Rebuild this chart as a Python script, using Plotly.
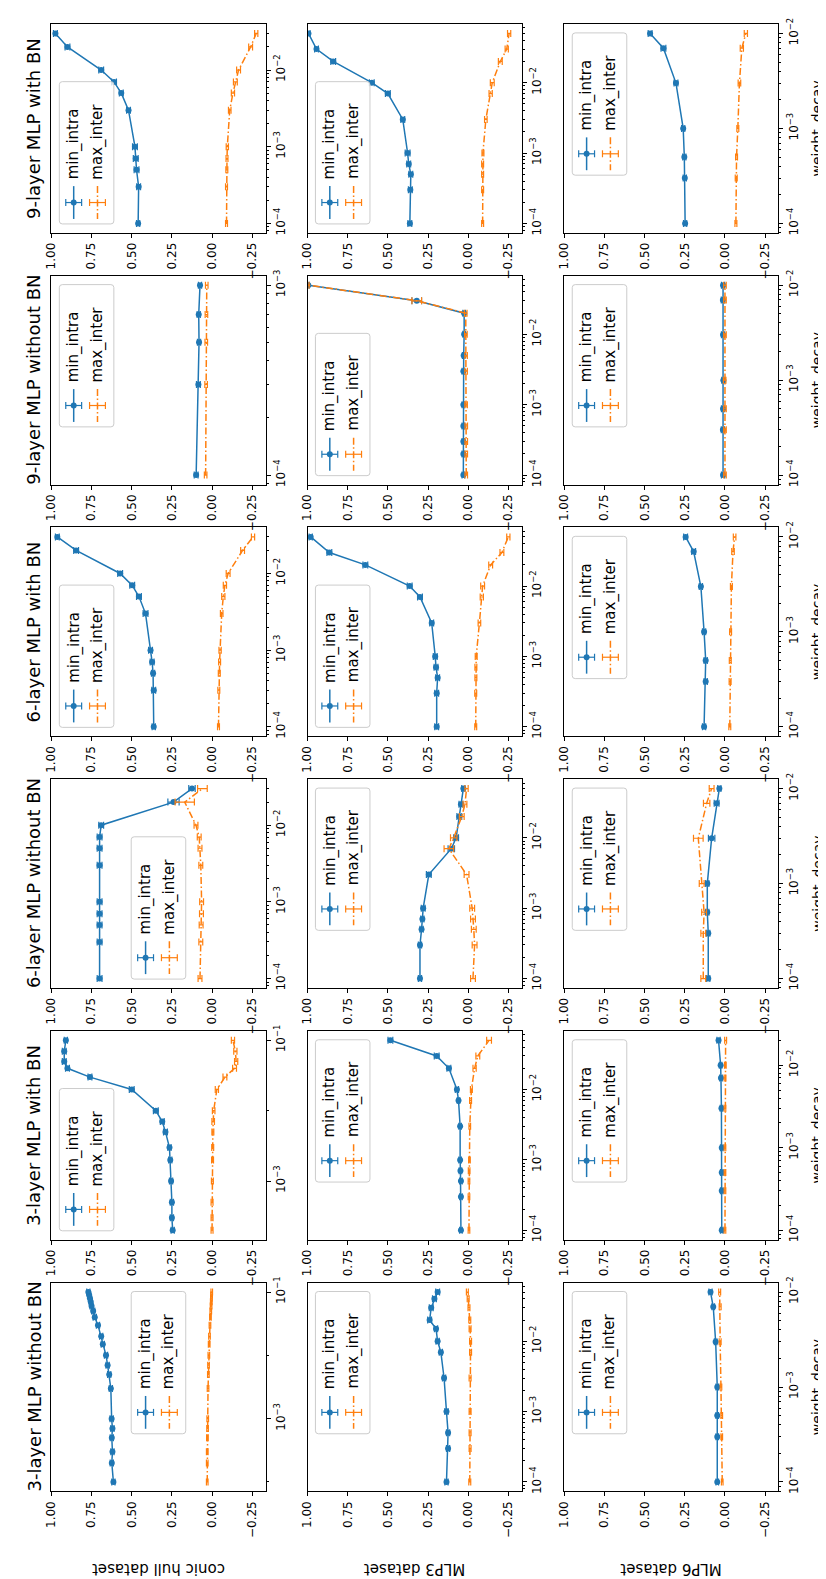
import math
import plotly.graph_objects as go

W, H = 826, 1579
FONT = "DejaVu Sans"
BLUE = "#1f77b4"
ORANGE = "#ff7f0e"

models = ["9-layer MLP with BN", "9-layer MLP without BN", "6-layer MLP with BN",
          "6-layer MLP without BN", "3-layer MLP with BN", "3-layer MLP without BN"]
datasets = ["conic hull dataset", "MLP3 dataset", "MLP6 dataset"]
series_names = ["min_intra", "max_inter"]
value_ticks = [1.0, 0.75, 0.5, 0.25, 0.0, -0.25]
value_tick_labels = ["1.00", "0.75", "0.50", "0.25", "0.00", "\u22120.25"]
x_label = "weight_decay"

# ---------------- conic hull dataset ----------------
conic_9bn_wd = [1e-4, 3e-4, 5e-4, 7e-4, 1e-3, 3e-3, 5e-3, 7e-3, 1e-2, 2e-2, 3e-2]
conic_9bn_min = [0.46, 0.457, 0.47, 0.475, 0.48, 0.52, 0.565, 0.61, 0.69, 0.90, 0.975]
conic_9bn_min_err = [0.01, 0.012, 0.015, 0.015, 0.015, 0.012, 0.012, 0.015, 0.015, 0.015, 0.012]
conic_9bn_max = [-0.09, -0.09, -0.092, -0.093, -0.095, -0.11, -0.13, -0.145, -0.165, -0.24, -0.275]
conic_9bn_max_err = [0.006, 0.006, 0.006, 0.006, 0.007, 0.008, 0.01, 0.012, 0.012, 0.012, 0.01]

conic_9nobn_wd = [1e-4, 3e-4, 5e-4, 7e-4, 1e-3]
conic_9nobn_min = [0.099, 0.085, 0.081, 0.083, 0.075]
conic_9nobn_min_err = [0.012, 0.012, 0.01, 0.01, 0.01]
conic_9nobn_max = [0.04, 0.037, 0.036, 0.035, 0.033]
conic_9nobn_max_err = [0.008, 0.008, 0.008, 0.008, 0.008]

conic_6bn_wd = [1e-4, 3e-4, 5e-4, 7e-4, 1e-3, 3e-3, 5e-3, 7e-3, 1e-2, 2e-2, 3e-2]
conic_6bn_min = [0.363, 0.363, 0.367, 0.373, 0.383, 0.414, 0.455, 0.497, 0.572, 0.846, 0.963]
conic_6bn_min_err = [0.01, 0.012, 0.01, 0.012, 0.012, 0.015, 0.015, 0.015, 0.015, 0.015, 0.012]
conic_6bn_max = [-0.04, -0.042, -0.045, -0.047, -0.05, -0.06, -0.07, -0.08, -0.10, -0.19, -0.255]
conic_6bn_max_err = [0.006, 0.006, 0.006, 0.006, 0.007, 0.008, 0.01, 0.01, 0.012, 0.012, 0.01]

conic_6nobn_wd = [1e-4, 3e-4, 5e-4, 7e-4, 1e-3, 3e-3, 5e-3, 7e-3, 1e-2, 2e-2, 3e-2]
conic_6nobn_min = [0.70, 0.70, 0.70, 0.70, 0.70, 0.70, 0.70, 0.70, 0.69, 0.24, 0.125]
conic_6nobn_min_err = [0.015, 0.015, 0.015, 0.015, 0.015, 0.015, 0.015, 0.015, 0.015, 0.035, 0.02]
conic_6nobn_max = [0.075, 0.07, 0.068, 0.066, 0.065, 0.07, 0.075, 0.08, 0.10, 0.17, 0.06]
conic_6nobn_max_err = [0.012, 0.012, 0.012, 0.012, 0.012, 0.012, 0.012, 0.012, 0.012, 0.06, 0.03]

conic_3bn_wd = [2e-4, 3e-4, 5e-4, 1e-3, 2e-3, 3e-3, 5e-3, 7e-3, 1e-2, 2e-2, 3e-2, 4e-2, 5e-2, 7e-2, 1e-1]
conic_3bn_min = [0.245, 0.25, 0.25, 0.255, 0.26, 0.265, 0.29, 0.31, 0.35, 0.50, 0.76, 0.90, 0.92, 0.92, 0.91]
conic_3bn_min_err = [0.01, 0.01, 0.01, 0.01, 0.01, 0.01, 0.012, 0.012, 0.015, 0.015, 0.012, 0.012, 0.012, 0.012, 0.01]
conic_3bn_max = [0.0, 0.0, 0.0, -0.002, -0.003, -0.004, -0.005, -0.007, -0.01, -0.03, -0.08, -0.14, -0.15, -0.145, -0.13]
conic_3bn_max_err = [0.006, 0.006, 0.006, 0.006, 0.006, 0.006, 0.006, 0.008, 0.008, 0.01, 0.012, 0.012, 0.01, 0.01, 0.01]

conic_3nobn_wd = [1e-4, 2e-4, 3e-4, 5e-4, 7e-4, 1e-3, 3e-3, 5e-3, 7e-3, 1e-2,
                  1.5e-2, 2e-2, 3e-2, 4e-2, 5e-2, 6e-2, 7e-2, 8e-2, 9e-2, 1e-1]
conic_3nobn_min = [0.614, 0.624, 0.62, 0.624, 0.62, 0.625, 0.63, 0.64, 0.65, 0.66,
                   0.68, 0.69, 0.71, 0.73, 0.74, 0.75, 0.755, 0.76, 0.765, 0.77]
conic_3nobn_min_err = [0.01, 0.01, 0.01, 0.01, 0.01, 0.01, 0.01, 0.01, 0.01, 0.01,
                       0.01, 0.01, 0.01, 0.01, 0.01, 0.01, 0.01, 0.01, 0.01, 0.01]
conic_3nobn_max = [0.03, 0.03, 0.03, 0.029, 0.028, 0.027, 0.025, 0.023, 0.022, 0.02,
                   0.018, 0.016, 0.013, 0.01, 0.008, 0.006, 0.005, 0.004, 0.003, 0.002]
conic_3nobn_max_err = [0.005, 0.005, 0.005, 0.005, 0.005, 0.005, 0.005, 0.005, 0.005, 0.005,
                       0.005, 0.005, 0.005, 0.005, 0.005, 0.005, 0.005, 0.005, 0.005, 0.005]

# ---------------- MLP3 dataset ----------------
mlp3_9bn_wd = [1e-4, 3e-4, 5e-4, 7e-4, 1e-3, 3e-3, 7e-3, 1e-2, 2e-2, 3e-2, 5e-2]
mlp3_9bn_min = [0.363, 0.36, 0.357, 0.37, 0.377, 0.407, 0.50, 0.60, 0.84, 0.944, 0.994]
mlp3_9bn_min_err = [0.012, 0.012, 0.012, 0.012, 0.015, 0.012, 0.015, 0.015, 0.015, 0.012, 0.01]
mlp3_9bn_max = [-0.09, -0.09, -0.09, -0.09, -0.092, -0.11, -0.14, -0.15, -0.20, -0.24, -0.255]
mlp3_9bn_max_err = [0.006, 0.006, 0.006, 0.006, 0.006, 0.008, 0.01, 0.012, 0.012, 0.01, 0.01]

mlp3_9nobn_wd = [1e-4, 2e-4, 3e-4, 5e-4, 1e-3, 3e-3, 5e-3, 1e-2, 2e-2, 3e-2, 5e-2]
mlp3_9nobn_min = [0.03, 0.03, 0.03, 0.03, 0.03, 0.03, 0.028, 0.025, 0.025, 0.32, 0.995]
mlp3_9nobn_min_err = [0.008, 0.008, 0.008, 0.008, 0.008, 0.008, 0.008, 0.008, 0.008, 0.03, 0.005]
mlp3_9nobn_max = [0.012, 0.012, 0.012, 0.012, 0.013, 0.013, 0.013, 0.014, 0.015, 0.32, 0.995]
mlp3_9nobn_max_err = [0.008, 0.008, 0.008, 0.008, 0.008, 0.008, 0.008, 0.008, 0.008, 0.03, 0.005]

mlp3_6bn_wd = [1e-4, 3e-4, 5e-4, 7e-4, 1e-3, 3e-3, 7e-3, 1e-2, 2e-2, 3e-2, 5e-2]
mlp3_6bn_min = [0.196, 0.196, 0.19, 0.20, 0.205, 0.227, 0.30, 0.364, 0.64, 0.864, 0.98]
mlp3_6bn_min_err = [0.012, 0.012, 0.012, 0.012, 0.012, 0.012, 0.015, 0.015, 0.015, 0.015, 0.01]
mlp3_6bn_max = [-0.047, -0.047, -0.048, -0.048, -0.05, -0.07, -0.085, -0.09, -0.14, -0.21, -0.25]
mlp3_6bn_max_err = [0.006, 0.006, 0.006, 0.006, 0.006, 0.008, 0.01, 0.012, 0.012, 0.012, 0.01]

mlp3_6nobn_wd = [1e-4, 3e-4, 5e-4, 7e-4, 1e-3, 3e-3, 7e-3, 1e-2, 2e-2, 3e-2, 5e-2]
mlp3_6nobn_min = [0.30, 0.30, 0.29, 0.285, 0.28, 0.245, 0.105, 0.075, 0.055, 0.045, 0.03]
mlp3_6nobn_min_err = [0.01, 0.01, 0.01, 0.01, 0.012, 0.015, 0.02, 0.015, 0.015, 0.012, 0.01]
mlp3_6nobn_max = [-0.03, -0.04, -0.035, -0.03, -0.025, 0.01, 0.12, 0.09, 0.04, 0.02, 0.01]
mlp3_6nobn_max_err = [0.015, 0.015, 0.015, 0.015, 0.015, 0.015, 0.03, 0.02, 0.015, 0.012, 0.01]

mlp3_3bn_wd = [1e-4, 3e-4, 5e-4, 7e-4, 1e-3, 3e-3, 7e-3, 1e-2, 2e-2, 3e-2, 5e-2]
mlp3_3bn_min = [0.045, 0.045, 0.045, 0.048, 0.05, 0.05, 0.06, 0.07, 0.12, 0.196, 0.484]
mlp3_3bn_min_err = [0.008, 0.008, 0.008, 0.008, 0.008, 0.008, 0.008, 0.01, 0.012, 0.015, 0.015]
mlp3_3bn_max = [-0.005, -0.005, -0.005, -0.006, -0.008, -0.01, -0.015, -0.02, -0.04, -0.06, -0.13]
mlp3_3bn_max_err = [0.005, 0.005, 0.005, 0.005, 0.005, 0.005, 0.006, 0.006, 0.01, 0.012, 0.015]

mlp3_3nobn_wd = [1e-4, 3e-4, 5e-4, 1e-3, 3e-3, 7e-3, 1e-2, 1.5e-2, 2e-2, 3e-2, 4e-2, 5e-2]
mlp3_3nobn_min = [0.135, 0.125, 0.125, 0.135, 0.15, 0.17, 0.19, 0.20, 0.24, 0.23, 0.21, 0.19]
mlp3_3nobn_min_err = [0.01, 0.01, 0.01, 0.01, 0.01, 0.01, 0.01, 0.01, 0.012, 0.012, 0.012, 0.012]
mlp3_3nobn_max = [-0.01, -0.012, -0.012, -0.012, -0.012, -0.015, -0.015, -0.012, -0.01, -0.005, 0.0, 0.005]
mlp3_3nobn_max_err = [0.006, 0.006, 0.006, 0.006, 0.006, 0.006, 0.006, 0.006, 0.006, 0.006, 0.006, 0.006]

# ---------------- MLP6 dataset ----------------
mlp6_9bn_wd = [1e-4, 3e-4, 5e-4, 1e-3, 3e-3, 7e-3, 1e-2]
mlp6_9bn_min = [0.248, 0.25, 0.253, 0.26, 0.305, 0.383, 0.466]
mlp6_9bn_min_err = [0.01, 0.01, 0.01, 0.01, 0.012, 0.015, 0.012]
mlp6_9bn_max = [-0.068, -0.07, -0.072, -0.08, -0.09, -0.105, -0.13]
mlp6_9bn_max_err = [0.006, 0.006, 0.006, 0.006, 0.008, 0.01, 0.01]

mlp6_9nobn_wd = [1e-4, 3e-4, 5e-4, 1e-3, 3e-3, 7e-3, 1e-2]
mlp6_9nobn_min = [0.012, 0.013, 0.012, 0.01, 0.012, 0.013, 0.012]
mlp6_9nobn_min_err = [0.01, 0.01, 0.01, 0.01, 0.01, 0.01, 0.01]
mlp6_9nobn_max = [0.0, 0.0, 0.0, 0.002, 0.0, 0.0, 0.0]
mlp6_9nobn_max_err = [0.008, 0.008, 0.008, 0.008, 0.008, 0.008, 0.008]

mlp6_6bn_wd = [1e-4, 3e-4, 5e-4, 1e-3, 3e-3, 7e-3, 1e-2]
mlp6_6bn_min = [0.13, 0.12, 0.12, 0.13, 0.15, 0.195, 0.245]
mlp6_6bn_min_err = [0.01, 0.01, 0.01, 0.01, 0.01, 0.012, 0.012]
mlp6_6bn_max = [-0.03, -0.032, -0.033, -0.035, -0.04, -0.05, -0.06]
mlp6_6bn_max_err = [0.006, 0.006, 0.006, 0.006, 0.006, 0.008, 0.008]

mlp6_6nobn_wd = [1e-4, 3e-4, 5e-4, 1e-3, 3e-3, 7e-3, 1e-2]
mlp6_6nobn_min = [0.104, 0.104, 0.11, 0.11, 0.083, 0.052, 0.035]
mlp6_6nobn_min_err = [0.01, 0.01, 0.01, 0.01, 0.02, 0.015, 0.01]
mlp6_6nobn_max = [0.135, 0.135, 0.13, 0.145, 0.166, 0.114, 0.083]
mlp6_6nobn_max_err = [0.015, 0.015, 0.015, 0.015, 0.03, 0.02, 0.015]

mlp6_3bn_wd = [1e-4, 3e-4, 5e-4, 1e-3, 3e-3, 7e-3, 1e-2, 2e-2]
mlp6_3bn_min = [0.02, 0.02, 0.02, 0.02, 0.022, 0.025, 0.027, 0.04]
mlp6_3bn_min_err = [0.008, 0.008, 0.008, 0.008, 0.008, 0.008, 0.008, 0.01]
mlp6_3bn_max = [0.0, 0.0, 0.0, 0.0, 0.0, 0.0, -0.002, -0.004]
mlp6_3bn_max_err = [0.005, 0.005, 0.005, 0.005, 0.005, 0.005, 0.005, 0.006]

mlp6_3nobn_wd = [1e-4, 3e-4, 5e-4, 1e-3, 3e-3, 7e-3, 1e-2]
mlp6_3nobn_min = [0.048, 0.048, 0.048, 0.048, 0.058, 0.073, 0.09]
mlp6_3nobn_min_err = [0.008, 0.008, 0.008, 0.008, 0.008, 0.008, 0.01]
mlp6_3nobn_max = [0.017, 0.02, 0.02, 0.025, 0.03, 0.03, 0.033]
mlp6_3nobn_max_err = [0.005, 0.005, 0.005, 0.005, 0.006, 0.006, 0.006]

# panel table: [dataset][model]
panels = [
    [
        (conic_9bn_wd, conic_9bn_min, conic_9bn_min_err, conic_9bn_max, conic_9bn_max_err),
        (conic_9nobn_wd, conic_9nobn_min, conic_9nobn_min_err, conic_9nobn_max, conic_9nobn_max_err),
        (conic_6bn_wd, conic_6bn_min, conic_6bn_min_err, conic_6bn_max, conic_6bn_max_err),
        (conic_6nobn_wd, conic_6nobn_min, conic_6nobn_min_err, conic_6nobn_max, conic_6nobn_max_err),
        (conic_3bn_wd, conic_3bn_min, conic_3bn_min_err, conic_3bn_max, conic_3bn_max_err),
        (conic_3nobn_wd, conic_3nobn_min, conic_3nobn_min_err, conic_3nobn_max, conic_3nobn_max_err),
    ],
    [
        (mlp3_9bn_wd, mlp3_9bn_min, mlp3_9bn_min_err, mlp3_9bn_max, mlp3_9bn_max_err),
        (mlp3_9nobn_wd, mlp3_9nobn_min, mlp3_9nobn_min_err, mlp3_9nobn_max, mlp3_9nobn_max_err),
        (mlp3_6bn_wd, mlp3_6bn_min, mlp3_6bn_min_err, mlp3_6bn_max, mlp3_6bn_max_err),
        (mlp3_6nobn_wd, mlp3_6nobn_min, mlp3_6nobn_min_err, mlp3_6nobn_max, mlp3_6nobn_max_err),
        (mlp3_3bn_wd, mlp3_3bn_min, mlp3_3bn_min_err, mlp3_3bn_max, mlp3_3bn_max_err),
        (mlp3_3nobn_wd, mlp3_3nobn_min, mlp3_3nobn_min_err, mlp3_3nobn_max, mlp3_3nobn_max_err),
    ],
    [
        (mlp6_9bn_wd, mlp6_9bn_min, mlp6_9bn_min_err, mlp6_9bn_max, mlp6_9bn_max_err),
        (mlp6_9nobn_wd, mlp6_9nobn_min, mlp6_9nobn_min_err, mlp6_9nobn_max, mlp6_9nobn_max_err),
        (mlp6_6bn_wd, mlp6_6bn_min, mlp6_6bn_min_err, mlp6_6bn_max, mlp6_6bn_max_err),
        (mlp6_6nobn_wd, mlp6_6nobn_min, mlp6_6nobn_min_err, mlp6_6nobn_max, mlp6_6nobn_max_err),
        (mlp6_3bn_wd, mlp6_3bn_min, mlp6_3bn_min_err, mlp6_3bn_max, mlp6_3bn_max_err),
        (mlp6_3nobn_wd, mlp6_3nobn_min, mlp6_3nobn_min_err, mlp6_3nobn_max, mlp6_3nobn_max_err),
    ],
]

# legend placement (layout): b=bottom / t=top, l=left / c=centre
legend_pos = [
    ["bl", "tl", "bl", "bc", "bl", "tc"],
    ["bl", "bl", "bl", "tl", "tl", "tl"],
    ["tl", "tl", "tl", "tl", "tl", "tl"],
]

# ---------------- geometry (pixels) ----------------
COL_LEFT = [36.7, 295.0, 554.0]
PW = 216.0
ROW_TOP = [10.0, 263.0, 516.0, 769.0, 1022.0, 1275.0]
PH = 210.0
VAL_RANGE = [1.0, -0.333]

TICK_FS = 12
TITLE_FS = 18
LEG_FS = 15
LABEL_FS = 15
XLAB_FS = 14
DASHDOT = "7px,2.5px,1.5px,2.5px"


def px(x):
    return x / W


def py(y):
    return 1 - y / H


fig = go.Figure()
shapes = []
annotations = []
layout_axes = {}


def sup(d):
    return "10<sup>\u2212%d</sup>" % (-d) if d < 0 else "10<sup>%d</sup>" % d


for d in range(3):
    for m in range(6):
        n = d * 6 + m + 1
        xs = "" if n == 1 else str(n)
        wd, vmin, emin, vmax, emax = panels[d][m]
        left = COL_LEFT[d]
        top = ROW_TOP[m]

        lo = math.log10(min(wd))
        hi = math.log10(max(wd))
        span = hi - lo
        r0 = lo - 0.05 * span
        r1 = hi + 0.05 * span

        # ticks
        stride = 2 if max(wd) >= 0.0999 else 1
        decades = list(range(math.ceil(r0 - 1e-9), math.floor(r1 + 1e-9) + 1))
        if stride == 2:
            major = [k for k in decades if k % 2 != 0]
            minor = [10.0 ** k for k in decades if k % 2 == 0]
        else:
            major = decades
            minor = []
            for k in range(math.floor(r0), math.ceil(r1) + 1):
                for s in range(2, 10):
                    v = s * 10.0 ** k
                    if r0 <= math.log10(v) <= r1:
                        minor.append(v)
        tickvals = [10.0 ** k for k in major]
        ticktext = [sup(k) for k in major]

        layout_axes["xaxis" + xs] = dict(
            domain=[px(left), px(left + PW)], anchor="y" + xs,
            range=VAL_RANGE, tickmode="array", tickvals=value_ticks, ticktext=value_tick_labels,
            tickangle=-90, ticks="outside", ticklen=4, tickwidth=1, tickcolor="black",
            showline=True, linecolor="black", linewidth=1, mirror=True,
            showgrid=False, zeroline=False,
            tickfont=dict(family=FONT, size=TICK_FS, color="black"),
        )
        layout_axes["yaxis" + xs] = dict(
            domain=[py(top + PH), py(top)], anchor="x" + xs, side="right",
            type="log", range=[r0, r1], tickmode="array", tickvals=tickvals, ticktext=ticktext,
            tickangle=-90, ticks="outside", ticklen=4, tickwidth=1, tickcolor="black",
            minor=dict(tickmode="array", tickvals=minor, ticks="outside", ticklen=2,
                       tickwidth=0.8, tickcolor="black"),
            showline=True, linecolor="black", linewidth=1, mirror=True,
            showgrid=False, zeroline=False,
            tickfont=dict(family=FONT, size=TICK_FS, color="black"),
        )

        fig.add_trace(go.Scatter(
            x=vmin, y=wd, xaxis="x" + xs, yaxis="y" + xs, mode="lines+markers",
            name=series_names[0], showlegend=False, cliponaxis=True,
            line=dict(color=BLUE, width=1.5), marker=dict(color=BLUE, size=6),
            error_x=dict(type="data", array=emin, color=BLUE, thickness=1.2, width=3.5),
        ))
        fig.add_trace(go.Scatter(
            x=vmax, y=wd, xaxis="x" + xs, yaxis="y" + xs, mode="lines",
            name=series_names[1], showlegend=False, cliponaxis=True,
            line=dict(color=ORANGE, width=1.5, dash=DASHDOT),
            error_x=dict(type="data", array=emax, color=ORANGE, thickness=1.2, width=3.5),
        ))

        # ---- hand drawn legend (rotated like the reference) ----
        bw, bh = 55.0, 143.0
        code = legend_pos[d][m]
        bx0 = left + 8 if code[1] == "l" else left + (PW - bw) / 2
        by0 = top + PH - 9 - bh if code[0] == "b" else top + 9
        bx1, by1 = bx0 + bw, by0 + bh
        rr = 3.0
        pts = [
            ("M", bx0 + rr, by0), ("L", bx1 - rr, by0), ("Q", bx1, by0, bx1, by0 + rr),
            ("L", bx1, by1 - rr), ("Q", bx1, by1, bx1 - rr, by1), ("L", bx0 + rr, by1),
            ("Q", bx0, by1, bx0, by1 - rr), ("L", bx0, by0 + rr), ("Q", bx0, by0, bx0 + rr, by0),
        ]
        path = ""
        for p in pts:
            cmd = p[0]
            coords = p[1:]
            seg = []
            for i in range(0, len(coords), 2):
                seg.append("%.5f,%.5f" % (px(coords[i]), py(coords[i + 1])))
            path += cmd + " " + " ".join(seg) + " "
        path += "Z"
        shapes.append(dict(type="path", path=path, xref="paper", yref="paper",
                           fillcolor="rgba(255,255,255,0.8)",
                           line=dict(color="#cccccc", width=1), layer="above"))
        for j, (col, name) in enumerate([(BLUE, series_names[0]), (ORANGE, series_names[1])]):
            cx = bx0 + 14.5 + 24 * j
            hy0, hy1 = by1 - 38, by1 - 5
            hy = (hy0 + hy1) / 2
            shapes.append(dict(type="line", xref="paper", yref="paper",
                               x0=px(cx), x1=px(cx), y0=py(hy0), y1=py(hy1),
                               line=dict(color=col, width=1.5,
                                         dash="solid" if j == 0 else DASHDOT),
                               layer="above"))
            shapes.append(dict(type="line", xref="paper", yref="paper",
                               x0=px(cx - 8), x1=px(cx + 8), y0=py(hy), y1=py(hy),
                               line=dict(color=col, width=1.2), layer="above"))
            for cxx in (cx - 8, cx + 8):
                shapes.append(dict(type="line", xref="paper", yref="paper",
                                   x0=px(cxx), x1=px(cxx), y0=py(hy - 3.5), y1=py(hy + 3.5),
                                   line=dict(color=col, width=1.2), layer="above"))
            if j == 0:
                shapes.append(dict(type="circle", xref="paper", yref="paper",
                                   x0=px(cx - 3), x1=px(cx + 3), y0=py(hy + 3), y1=py(hy - 3),
                                   fillcolor=col, line=dict(color=col, width=0), layer="above"))
            annotations.append(dict(
                text=name, x=px(cx), y=py(by1 - 43), xref="paper", yref="paper",
                xanchor="center", yanchor="bottom", textangle=-90, showarrow=False,
                font=dict(family=FONT, size=LEG_FS, color="black")))

        # titles (only first strip), dataset labels, x label
        if d == 0:
            annotations.append(dict(
                text=models[m], x=px(left - 18), y=py(top + PH / 2), xref="paper", yref="paper",
                xanchor="center", yanchor="middle", textangle=-90, showarrow=False,
                font=dict(family=FONT, size=TITLE_FS, color="black")))
        if d == 2:
            annotations.append(dict(
                text=x_label, x=px(809), y=py(top + PH / 2), xref="paper", yref="paper",
                xanchor="center", yanchor="middle", textangle=-90, showarrow=False,
                font=dict(family=FONT, size=XLAB_FS, color="black")))
        if m == 5:
            annotations.append(dict(
                text=datasets[d], x=px(left + PW / 2), y=py(1563), xref="paper", yref="paper",
                xanchor="center", yanchor="middle", textangle=180, showarrow=False,
                font=dict(family=FONT, size=LABEL_FS, color="black")))

fig.update_layout(
    width=W, height=H, margin=dict(l=0, r=0, t=0, b=0),
    paper_bgcolor="white", plot_bgcolor="white", showlegend=False,
    font=dict(family=FONT, size=TICK_FS, color="black"),
    shapes=shapes, annotations=annotations, **layout_axes,
)

fig.write_html("out.html")
